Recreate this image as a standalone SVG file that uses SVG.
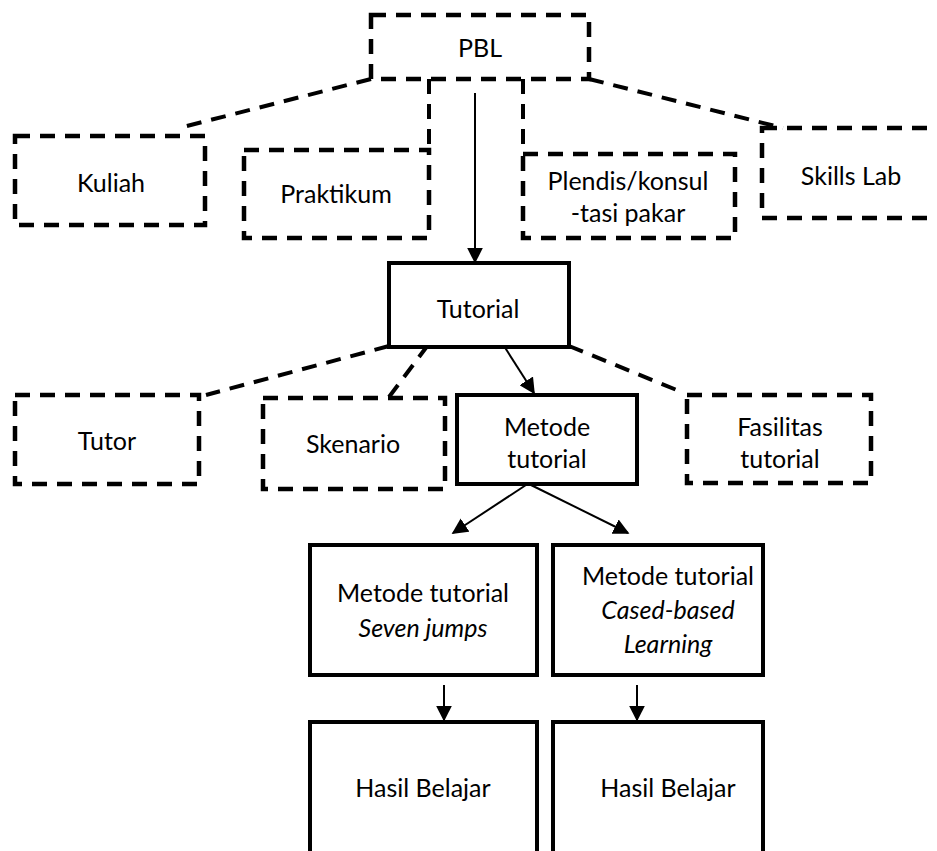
<svg xmlns="http://www.w3.org/2000/svg" width="937" height="851" viewBox="0 0 937 851">
<defs>
<style>
.d{fill:none;stroke:#000;stroke-width:4.5;stroke-dasharray:15 10}
.s{fill:#fff;stroke:#000;stroke-width:4}
.c{fill:none;stroke:#000;stroke-width:2}
.cd{fill:none;stroke:#000;stroke-width:4;stroke-dasharray:15 10}
text{font-family:Lato,"Open Sans","Liberation Sans",sans-serif;font-size:25px;fill:#000;text-anchor:middle}
.i{font-style:italic}
</style>
<marker id="b" viewBox="0 0 10 10" refX="9" refY="5" markerWidth="16" markerHeight="16" orient="auto" markerUnits="userSpaceOnUse">
<path d="M0,0 L10,5 L0,10 z" fill="#000"/>
</marker>
</defs>
<rect width="937" height="851" fill="#fff"/>
<g id="connectors">
<line class="cd" x1="371" y1="79" x2="179" y2="128"/>
<line class="cd" x1="589" y1="79" x2="783" y2="128"/>
<line class="cd" x1="429" y1="79" x2="429" y2="150"/>
<line class="cd" x1="523" y1="79" x2="523" y2="154"/>
<line class="c" x1="475" y1="93" x2="475" y2="262" marker-end="url(#b)"/>
<line class="cd" x1="389" y1="346" x2="206" y2="395"/>
<line class="cd" x1="428" y1="345" x2="389" y2="397"/>
<line class="c" x1="504" y1="346" x2="534" y2="393" marker-end="url(#b)"/>
<line class="cd" x1="569" y1="346" x2="684" y2="393"/>
<line class="c" x1="526" y1="485" x2="453" y2="533" marker-end="url(#b)"/>
<line class="c" x1="531" y1="485" x2="628" y2="533" marker-end="url(#b)"/>
<line class="c" x1="444" y1="685" x2="444" y2="720" marker-end="url(#b)"/>
<line class="c" x1="637" y1="685" x2="637" y2="720" marker-end="url(#b)"/>
</g>
<g id="pbl"><rect class="d" x="371" y="15" width="218" height="64"/><text x="480" y="57">PBL</text></g>
<g id="kuliah"><rect class="d" x="15" y="136" width="190" height="89"/><text x="111" y="192">Kuliah</text></g>
<g id="praktikum"><rect class="d" x="244" y="150" width="185" height="88"/><text x="336" y="203">Praktikum</text></g>
<g id="plendis"><rect class="d" x="523" y="154" width="212" height="84"/><text x="628" y="190">Plendis/konsul</text><text x="628" y="222">-tasi pakar</text></g>
<g id="skills"><rect class="d" x="762" y="128" width="200" height="90"/><text x="851" y="185">Skills Lab</text></g>
<g id="tutorial"><rect class="s" x="389" y="263" width="180" height="84"/><text x="478" y="318">Tutorial</text></g>
<g id="tutor"><rect class="d" x="15" y="395" width="184" height="89"/><text x="107" y="450">Tutor</text></g>
<g id="skenario"><rect class="d" x="263" y="398" width="182" height="91"/><text x="353" y="453">Skenario</text></g>
<g id="metode"><rect class="s" x="457" y="395" width="180" height="89"/><text x="547" y="436">Metode</text><text x="547" y="468">tutorial</text></g>
<g id="fasilitas"><rect class="d" x="687" y="395" width="184" height="88"/><text x="780" y="436">Fasilitas</text><text x="780" y="468">tutorial</text></g>
<g id="seven"><rect class="s" x="310" y="545" width="227" height="130"/><text x="423" y="602">Metode tutorial</text><text class="i" x="423" y="637">Seven jumps</text></g>
<g id="cbl"><rect class="s" x="553" y="545" width="210" height="130"/><text x="668" y="585">Metode tutorial</text><text class="i" x="668" y="619">Cased-based</text><text class="i" x="668" y="653">Learning</text></g>
<g id="hasil1"><rect class="s" x="310" y="722" width="227" height="140"/><text x="423" y="797">Hasil Belajar</text></g>
<g id="hasil2"><rect class="s" x="553" y="722" width="210" height="140"/><text x="668" y="797">Hasil Belajar</text></g>
</svg>
